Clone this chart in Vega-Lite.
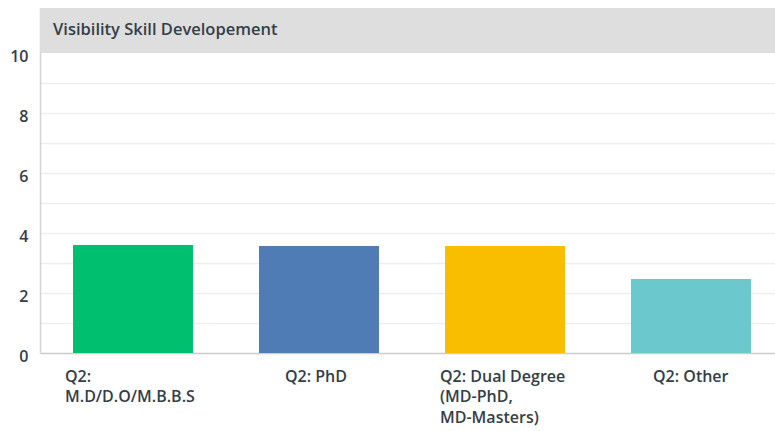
{
  "$schema": "https://vega.github.io/schema/vega-lite/v6.json",
  "width": 744,
  "height": 345,
  "autosize": {"type": "none"},
  "padding": {"left": 40, "top": 8, "right": 0, "bottom": 78},
  "background": "white",
  "config": {"view": {"stroke": null}, "font": "Open Sans"},
  "title": {
    "text": "Visibility Skill Developement",
    "anchor": "start",
    "frame": "group",
    "orient": "top",
    "offset": -38,
    "baseline": "middle",
    "dx": 13,
    "fontSize": 16.5,
    "fontWeight": 600,
    "color": "#333e48",
    "font": "Open Sans"
  },
  "encoding": {
    "y": {
      "field": "v",
      "type": "quantitative",
      "scale": {"domain": [0, 11.5], "nice": false, "zero": true},
      "axis": {
        "title": null,
        "values": [0, 1, 2, 3, 4, 5, 6, 7, 8, 9, 10],
        "labelExpr": "datum.value % 2 == 0 ? datum.label : ''",
        "ticks": false,
        "grid": true,
        "gridColor": {"condition": {"test": "datum.value == 0 || datum.value == 10", "value": "transparent"}, "value": "#eeeeee"},
        "gridWidth": 1.5,
        "domainColor": "#d3d3d3",
        "domainWidth": 1.5,
        "labelPadding": 12,
        "labelFontSize": 16,
        "labelFontWeight": 600,
        "labelColor": "#333e48",
        "labelOffset": 3
      }
    }
  },
  "layer": [
    {
      "data": {"values": [{"v": 10, "v2": 11.5}]},
      "mark": {"type": "rect", "color": "#dedede"},
      "encoding": {"y2": {"field": "v2"}}
    },
    {
      "data": {
        "values": [
          {"degree": "Q2: M.D/D.O/M.B.B.S", "v": 3.6},
          {"degree": "Q2: PhD", "v": 3.57},
          {"degree": "Q2: Dual Degree (MD-PhD, MD-Masters)", "v": 3.57},
          {"degree": "Q2: Other", "v": 2.47}
        ]
      },
      "mark": {"type": "bar"},
      "encoding": {
        "x": {
          "field": "degree",
          "type": "nominal",
          "sort": null,
          "scale": {"paddingInner": 0.355, "paddingOuter": 0.1775},
          "axis": {
            "title": null,
            "ticks": false,
            "domainColor": "#cccccc",
            "domainWidth": 1.5,
            "labelAngle": 0,
            "labelAlign": "left",
            "labelBaseline": "top",
            "labelPadding": 15,
            "labelFontSize": 16,
            "labelFontWeight": 600,
            "labelColor": "#333e48",
            "labelLineHeight": 20.5,
            "labelLimit": 0,
            "labelOverlap": false,
            "labelBound": false,
            "labelExpr": "datum.value == 'Q2: M.D/D.O/M.B.B.S' ? ['Q2:', 'M.D/D.O/M.B.B.S'] : datum.value == 'Q2: Dual Degree (MD-PhD, MD-Masters)' ? ['Q2: Dual Degree', '(MD-PhD,', 'MD-Masters)'] : datum.label",
            "labelOffset": {
              "condition": [
                {"test": "datum.value == 'Q2: M.D/D.O/M.B.B.S'", "value": -68},
                {"test": "datum.value == 'Q2: PhD'", "value": -34},
                {"test": "datum.value == 'Q2: Other'", "value": -38}
              ],
              "value": -65
            }
          }
        },
        "color": {
          "field": "degree",
          "type": "nominal",
          "sort": null,
          "scale": {
            "domain": ["Q2: M.D/D.O/M.B.B.S", "Q2: PhD", "Q2: Dual Degree (MD-PhD, MD-Masters)", "Q2: Other"],
            "range": ["#00bf6f", "#507cb6", "#f9be00", "#6bc8cd"]
          },
          "legend": null
        }
      }
    }
  ]
}
